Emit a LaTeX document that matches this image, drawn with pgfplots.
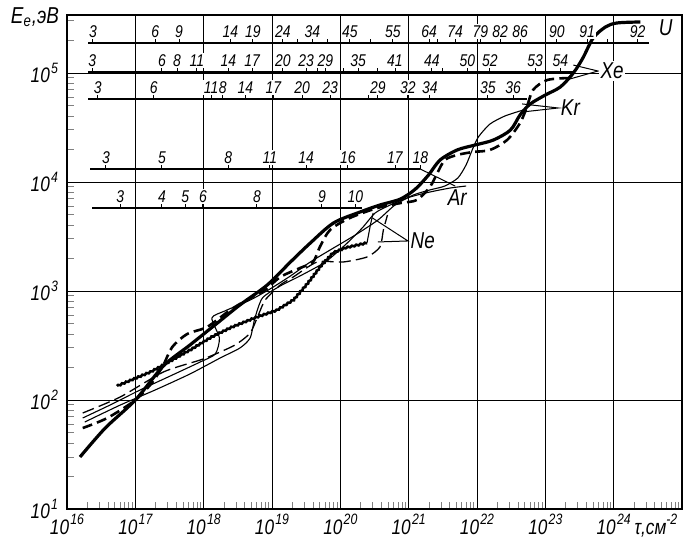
\documentclass[border=0pt]{standalone}
\usepackage{fontspec}
\setmainfont{Liberation Sans}
\newfontfamily\gost{Liberation Sans}[FakeStretch=0.82]
\usepackage{pgfplots}
\usepackage{pgfplotstable}
\pgfplotsset{compat=1.18}
\usetikzlibrary{decorations.pathmorphing}

% both axes are in log10 units; minor ticks at 2..9 of every decade
\def\xminor{16.30103}
\foreach \d in {16,...,24}{\foreach \m in {0.30103,0.47712,0.60206,0.69897,0.77815,0.84510,0.90309,0.95424}{\pgfmathsetmacro\v{\d+\m}\xdef\xminor{\xminor,\v}}}
\def\yminor{1.30103}
\foreach \d in {1,...,4}{\foreach \m in {0.30103,0.47712,0.60206,0.69897,0.77815,0.84510,0.90309,0.95424}{\pgfmathsetmacro\v{\d+\m}\xdef\yminor{\yminor,\v}}}
\xdef\yminor{\yminor,5.30103,5.47712}

\pgfdeclareplotmark{stick}{\pgfpathmoveto{\pgfqpoint{0pt}{0pt}}\pgfpathlineto{\pgfqpoint{0pt}{3.5pt}}\pgfusepathqstroke}
\newcommand\pw[1]{10\kern0.6pt\raisebox{0.85ex}{\fontsize{7.5}{8}\selectfont #1}}

\pgfplotsset{
  scaleticks/.style={only marks, mark=stick, mark options={line width=0.5pt},
    nodes near coords, point meta=explicit symbolic,
    every node near coord/.append style={anchor=south, yshift=1.8pt, inner sep=0.7pt,
      fill=white, font=\gost\itshape\fontsize{8.5}{9}\selectfont}},
  scaleline/.style={black, line width=1.1pt},
}

% charge-state scales: log10(tau) of each tick and its label
\pgfplotstableread{
x     lab
16.38 3
17.29 6
17.64 9
18.39 14
18.72 19
19.16 24
19.37 {}
19.59 34
19.81 {}
20.14 45
20.44 {}
20.77 55
21.30 64
21.42 {}
21.68 74
22.05 79
22.34 82
22.63 86
23.17 90
23.61 91
23.91 {}
24.35 92
}\tabU
\pgfplotstableread{
x     lab
16.37 3
17.39 6
17.61 8
17.90 11
18.36 14
18.71 17
19.16 20
19.50 23
19.67 {}
19.78 29
20.04 {}
20.26 35
20.55 {}
20.80 41
21.34 44
21.49 {}
21.86 50
22.19 52
22.85 53
23.22 54
}\tabXe
\pgfplotstableread{
x     lab
16.45 3
17.27 6
18.11 11
18.28 8
18.61 14
19.02 17
19.44 20
19.85 23
20.41 {}
20.55 29
20.99 32
21.31 34
22.16 35
22.53 36
}\tabKr
\pgfplotstableread{
x     lab
16.57 3
17.39 5
18.36 8
18.97 11
19.50 14
20.11 16
20.80 17
21.17 18
}\tabAr
\pgfplotstableread{
x     lab
16.78 3
17.39 4
17.73 5
17.99 6
18.78 8
19.73 9
20.22 10
}\tabNe

\begin{document}
\begin{tikzpicture}
\path[use as bounding box] (-33.5pt,-17pt) rectangle (308.5pt,254.5pt);
\begin{axis}[
  scale only axis, width=307.5pt, height=247pt,
  xmin=16, xmax=25, ymin=1, ymax=5.532,
  enlargelimits=false, clip=false,
  axis line style={line width=0.9pt},
  xtick={16,...,24}, ytick={1,...,5},
  xticklabels={\pw{16},\pw{17},\pw{18},\pw{19},\pw{20},\pw{21},\pw{22},\pw{23},
    \pw{24}\rlap{\kern2pt τ,см\raisebox{0.85ex}{\fontsize{7.5}{8}\selectfont -2}}},
  yticklabels={\pw{1},\pw{2},\pw{3},\pw{4},\pw{5}},
  minor xtick/.expanded=\xminor,
  minor ytick/.expanded=\yminor,
  tick pos=left, tick align=inside,
  major tick length=0pt, minor tick length=3.5pt,
  minor tick style={line width=0.5pt},
  grid=major, major grid style={line width=0.45pt, black},
  ticklabel style={font=\gost\itshape\fontsize{10.5}{12}\selectfont},
  xticklabel style={inner sep=1pt, yshift=-1.5pt},
  yticklabel style={xshift=-1pt},
]
% scales of ion charge
\addplot[scaleline] coordinates {(16.31,5.275) (24.52,5.275)};
\addplot[scaleticks] table[x=x, y expr=5.275, meta=lab] {\tabU};
\addplot[scaleline] coordinates {(16.31,5.01) (23.44,5.01)};
\addplot[scaleticks] table[x=x, y expr=5.01, meta=lab] {\tabXe};
\addplot[scaleline] coordinates {(16.31,4.761) (22.73,4.761)};
\addplot[scaleticks] table[x=x, y expr=4.761, meta=lab] {\tabKr};
\addplot[scaleline] coordinates {(16.34,4.119) (21.17,4.119)};
\addplot[scaleticks] table[x=x, y expr=4.119, meta=lab] {\tabAr};
\addplot[scaleline] coordinates {(16.37,3.761) (20.32,3.761)};
\addplot[scaleticks] table[x=x, y expr=3.761, meta=lab] {\tabNe};

% U
\addplot[black, line width=1.6pt, smooth, tension=0.5] coordinates {
(16.19,1.477) (16.56,1.743) (17.00,2.000) (17.41,2.312) (17.80,2.505)
(18.20,2.706) (18.53,2.872) (18.93,3.055) (19.27,3.266) (19.56,3.440)
(19.90,3.624) (20.29,3.725) (20.58,3.789) (20.88,3.844) (21.10,3.936)
(21.29,4.064) (21.46,4.202) (21.71,4.294) (21.97,4.339) (22.24,4.385)
(22.49,4.477) (22.63,4.615) (22.78,4.716) (23.00,4.798) (23.22,4.872)
(23.41,5.000) (23.55,5.138) (23.70,5.321) (23.88,5.422) (24.05,5.459)
(24.39,5.468)};
% Xe
\addplot[black, line width=1.3pt, dash pattern=on 5pt off 2.6pt, smooth, tension=0.5] coordinates {
(16.23,1.743) (16.59,1.835) (17.00,2.000) (17.24,2.156) (17.41,2.321)
(17.54,2.486) (17.76,2.606) (18.05,2.670) (18.39,2.826) (18.68,2.936)
(18.90,3.009) (19.12,3.128) (19.41,3.211) (19.60,3.266) (19.70,3.404)
(19.85,3.560) (20.14,3.670) (20.54,3.761) (20.88,3.807) (21.12,3.835)
(21.31,3.954) (21.42,4.083) (21.53,4.202) (21.71,4.248) (21.94,4.275)
(22.19,4.294) (22.44,4.385) (22.63,4.541) (22.73,4.688) (22.82,4.844)
(23.03,4.936) (23.36,4.954)};
% Kr
\addplot[black, line width=0.55pt, smooth, tension=0.4] coordinates {
(16.23,1.835) (16.63,1.954) (17.07,2.092) (17.51,2.220) (17.95,2.349)
(18.17,2.422) (18.23,2.569) (18.12,2.752) (18.31,2.817) (18.68,2.917)
(18.97,3.018) (19.27,3.138) (19.56,3.266) (19.85,3.376) (20.22,3.514)
(20.55,3.651) (20.80,3.789) (21.07,3.881) (21.31,3.927) (21.53,3.963)
(21.72,4.037) (21.84,4.156) (21.93,4.294) (22.02,4.413) (22.19,4.532)
(22.41,4.606) (22.68,4.661)};
% Ar
\addplot[black, line width=0.55pt, smooth, tension=0.4] coordinates {
(16.26,1.798) (16.78,1.954) (17.29,2.092) (17.80,2.239) (18.24,2.385)
(18.53,2.477) (18.68,2.569) (18.75,2.752) (18.86,2.936) (19.12,3.046)
(19.41,3.138) (19.78,3.266) (20.07,3.422) (20.32,3.578) (20.51,3.716)
(20.73,3.789) (21.02,3.862) (21.31,3.908) (21.61,3.945) (21.84,3.963)};
% Ne, long dashes
\addplot[black, line width=0.65pt, dash pattern=on 6pt off 2.6pt, smooth, tension=0.4] coordinates {
(16.23,1.881) (16.78,2.028) (17.41,2.257) (17.95,2.367) (18.14,2.413)
(18.46,2.505) (18.68,2.615) (18.80,2.780) (18.90,2.917) (19.12,3.055)
(19.31,3.128) (19.66,3.266) (20.04,3.266) (20.39,3.312) (20.58,3.404)
(20.63,3.560) (20.69,3.697)};
% Ne, calculated step by step
\addplot[black, line width=1.3pt, decorate,
  decoration={snake, amplitude=0.3pt, segment length=2.2pt}] coordinates {
(16.73,2.128) (17.22,2.257) (17.46,2.339) (17.80,2.459) (18.09,2.569)
(18.39,2.661) (18.75,2.752) (19.05,2.817) (19.31,2.917) (19.51,3.064)
(19.70,3.220) (19.89,3.349) (20.07,3.394) (20.39,3.440)};
\addplot[black, line width=0.55pt] coordinates {(20.39,3.440) (20.44,3.606) (20.48,3.716)};

% leaders to the element names
\draw[line width=0.5pt] (axis cs:23.41,5.073) -- (axis cs:23.77,5.018) -- (axis cs:23.36,4.945);
\draw[line width=0.5pt] (axis cs:22.66,4.716) -- (axis cs:23.19,4.679) -- (axis cs:22.66,4.642);
\draw[line width=0.5pt] (axis cs:21.17,4.119) -- (axis cs:21.68,3.963);
\draw[line width=0.5pt] (axis cs:20.47,3.670) -- (axis cs:20.99,3.459) -- (axis cs:20.55,3.450);
\begin{scope}[every node/.style={font=\gost\itshape\fontsize{11.5}{12}\selectfont, inner sep=0.8pt}]
\node[anchor=west, fill=white] at (axis cs:23.78,5.018) {Xe};
\node[anchor=west] at (axis cs:23.20,4.679) {Kr};
\node at (axis cs:21.71,3.86) {Ar};
\node[anchor=west] at (axis cs:21.00,3.459) {Ne};
\node at (axis cs:24.76,5.413) {U};
\end{scope}
\end{axis}
\node[font=\gost\itshape\fontsize{11.5}{12}\selectfont] at (-16pt,246pt)
  {E\textsubscript{e},эВ};
\end{tikzpicture}
\end{document}
